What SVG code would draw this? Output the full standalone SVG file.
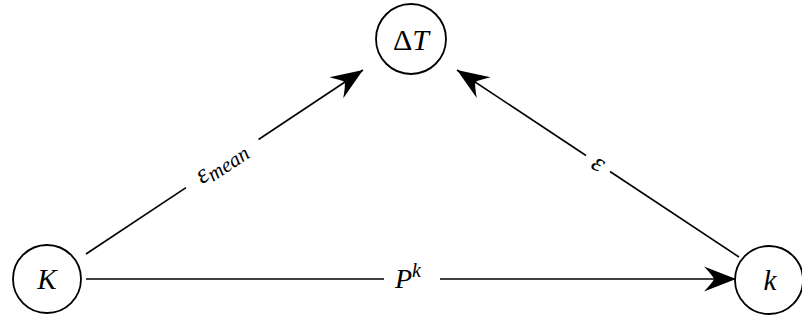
<svg xmlns="http://www.w3.org/2000/svg" width="802" height="320" viewBox="0 0 802 320">
<style>
.node{fill:#fff;stroke:#000;stroke-width:1.8}
.edge{stroke:#000;stroke-width:1.6;fill:none}
.lbl{font-family:"Liberation Serif","DejaVu Serif",serif;font-style:italic;fill:#000}
.up{font-style:normal}
</style>
<defs>
<marker id="arr" markerUnits="userSpaceOnUse" markerWidth="34" markerHeight="26" viewBox="-33 -13 34 26" refX="0" refY="0" orient="auto">
<path d="M0,0 L-32,-12.5 Q-23,-3 -22,0 Q-23,3 -32,12.5 Z" fill="#000"/>
</marker>
</defs>
<g id="edges">
<line class="edge" x1="86" y1="279" x2="384" y2="279"/>
<line class="edge" x1="440" y1="279" x2="736" y2="279" marker-end="url(#arr)"/>
<text class="lbl" x="408" y="288" font-size="28" text-anchor="middle">P<tspan font-size="20" dy="-11">k</tspan></text>
<line class="edge" x1="86" y1="254" x2="186" y2="187.6"/>
<line class="edge" x1="258.5" y1="139.5" x2="363" y2="70" marker-end="url(#arr)"/>
<text class="lbl" transform="translate(222,164) rotate(-33.6)" x="0" y="6" font-size="27" text-anchor="middle">ε<tspan font-size="21" dy="4">mean</tspan></text>
<line class="edge" x1="739" y1="257" x2="610" y2="171.5"/>
<line class="edge" x1="586" y1="155.5" x2="457" y2="70" marker-end="url(#arr)"/>
<text class="lbl" transform="translate(598,164) rotate(33.5)" x="0" y="7" font-size="27" text-anchor="middle">ε</text>
</g>
<g id="dT">
<circle class="node" cx="411" cy="39" r="35"/>
<text class="lbl" x="411" y="50" font-size="30" text-anchor="middle"><tspan class="up">Δ</tspan>T</text>
</g>
<g id="K">
<circle class="node" cx="47" cy="279" r="34"/>
<text class="lbl" x="47" y="289" font-size="29" text-anchor="middle">K</text>
</g>
<g id="k">
<circle class="node" cx="769" cy="280" r="34"/>
<text class="lbl" x="770" y="290" font-size="29" text-anchor="middle">k</text>
</g>
</svg>
